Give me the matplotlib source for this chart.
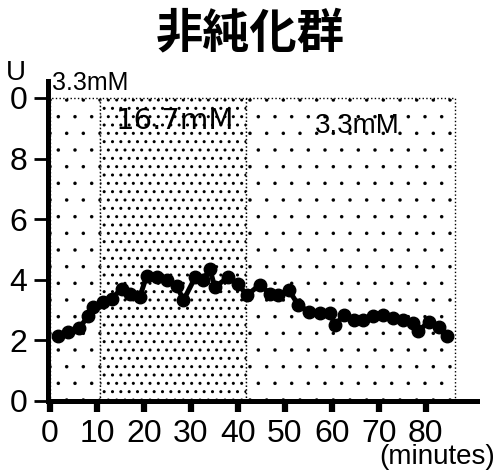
import matplotlib
matplotlib.use("Agg")
import matplotlib.pyplot as plt

# ---- data ----
minutes = [1.6, 3.9, 6.2, 8.1, 9.2, 11.3, 13.1, 15.3, 17.0, 19.1, 20.6, 22.7,
           24.8, 27.0, 28.4, 30.9, 32.6, 34.0, 35.1, 37.9, 40.0, 41.9, 44.7,
           46.8, 48.6, 50.9, 52.8, 55.2, 57.4, 59.6, 60.6, 62.6, 64.7, 66.7,
           68.8, 70.9, 73.0, 75.2, 77.3, 78.4, 80.7, 82.8, 84.6]
values = [2.13, 2.27, 2.40, 2.80, 3.10, 3.27, 3.38, 3.71, 3.54, 3.43, 4.14, 4.08,
          3.98, 3.81, 3.32, 4.08, 3.98, 4.36, 3.76, 4.08, 3.87, 3.49, 3.84,
          3.54, 3.49, 3.65, 3.18, 2.94, 2.92, 2.92, 2.51, 2.83, 2.67, 2.67,
          2.80, 2.83, 2.73, 2.67, 2.56, 2.31, 2.62, 2.45, 2.15]
phase_bounds = [0, 10.6, 41.7, 86.2]
phase_labels = ["3.3mM", "16.7mM", "3.3mM"]
x_ticks = [0, 10, 20, 30, 40, 50, 60, 70, 80]
y_ticks = [0, 2, 4, 6, 8, 10]
y_tick_labels = ["0", "2", "4", "6", "8", "0"]
title = "非純化群"

num_font = ['Liberation Sans', 'DejaVu Sans']

fig = plt.figure(figsize=(4.96, 4.72), dpi=100)
W, H = 496, 472
left, right, bottom, top = 48, 477, 401, 81
ax = fig.add_axes([left / W, 1 - bottom / H, (right - left) / W, (bottom - top) / H])
ax.set_xlim(-0.43, 90.9)
ax.set_ylim(0, 10.56)

hatches = ['.', '..', '.']
hatch_lw = [0.1, 1.0, 0.1]
for i in range(3):
    plt.rcParams['hatch.linewidth'] = hatch_lw[i]
    coll = ax.fill_between([phase_bounds[i], phase_bounds[i + 1]], 0, 10,
                           facecolor='white', edgecolor='black', hatch=hatches[i],
                           linewidth=1.0, linestyle=':', zorder=1)
    if hasattr(coll, 'set_hatch_linewidth'):
        coll.set_hatch_linewidth(hatch_lw[i])

ax.plot(minutes, values, color='black', linewidth=3.6, marker='o',
        markersize=9, zorder=3, solid_capstyle='round')

for s in ['top', 'right']:
    ax.spines[s].set_visible(False)
for s in ['left', 'bottom']:
    ax.spines[s].set_linewidth(3.6)
    ax.spines[s].set_zorder(4)

ax.set_xticks(x_ticks)
ax.set_xticklabels([str(v) for v in x_ticks], fontfamily=num_font, fontsize=23)
ax.set_yticks(y_ticks)
ax.set_yticklabels(y_tick_labels, fontfamily=num_font, fontsize=23)
ax.tick_params(axis='x', direction='out', length=8, width=4.5, pad=5)
ax.tick_params(axis='y', direction='out', length=10, width=2, pad=5)

def fx(px):
    return px / W
def fy(py):
    return 1 - py / H

fig.text(fx(250), fy(33), title, fontfamily=['Noto Sans CJK JP', 'DejaVu Sans'],
         fontweight='bold', fontsize=34, ha='center', va='center')
fig.text(fx(16), fy(73), "U", fontfamily=['Liberation Sans'], fontsize=20,
         ha='center', va='center')
fig.text(fx(90), fy(83), phase_labels[0], fontfamily=['Liberation Sans'], fontsize=18,
         ha='center', va='center')
fig.text(fx(175), fy(121), phase_labels[1], fontfamily=['DejaVu Sans'], fontsize=21,
         ha='center', va='center')
fig.text(fx(357), fy(126), phase_labels[2], fontfamily=['Liberation Sans'], fontsize=20,
         ha='center', va='center')
fig.text(fx(437), fy(457), "(minutes)", fontfamily=num_font, fontsize=20,
         ha='center', va='center')

fig.savefig("out.png", dpi=100)
